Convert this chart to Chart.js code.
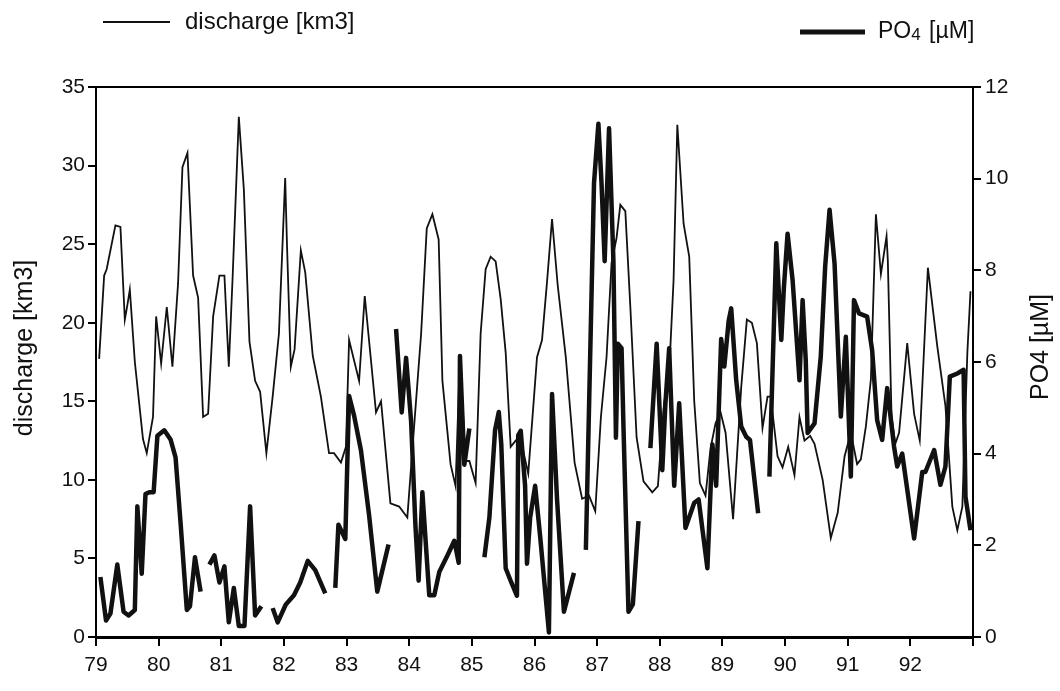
<!DOCTYPE html>
<html>
<head>
<meta charset="utf-8">
<script src="https://cdn.jsdelivr.net/npm/chart.js@4.4.0/dist/chart.umd.min.js"></script>
<style>
  html, body { margin: 0; padding: 0; background: #fff; }
  #wrap { width: 1060px; height: 691px; }
</style>
</head>
<body>
<div id="wrap"><canvas id="chart" width="1060" height="691"></canvas></div>
<script>
// ---------------------------------------------------------------
// DATA (x = year 19xx as decimal)
// ---------------------------------------------------------------
const dischargeYears = [
  79.05, 79.13, 79.17, 79.31, 79.39, 79.46, 79.50, 79.54, 79.62, 79.75, 79.81, 79.91, 79.96,
  80.04, 80.13, 80.22, 80.31, 80.38, 80.46, 80.55, 80.63, 80.71, 80.79, 80.87, 80.97,
  81.05, 81.12, 81.18, 81.28, 81.36, 81.45, 81.54, 81.62, 81.72, 81.82, 81.92,
  82.02, 82.05, 82.11, 82.17, 82.27, 82.34, 82.46, 82.59, 82.72, 82.80, 82.91, 82.99,
  83.04, 83.20, 83.29, 83.47, 83.55, 83.70, 83.84, 83.97,
  84.08, 84.19, 84.28, 84.37, 84.47, 84.53, 84.66, 84.74, 84.81, 84.90, 84.96,
  85.06, 85.14, 85.22, 85.30, 85.38, 85.46, 85.54, 85.62, 85.70, 85.80, 85.90,
  86.04, 86.12, 86.20, 86.28, 86.37, 86.50, 86.64, 86.76, 86.87, 86.97,
  87.06, 87.15, 87.23, 87.31, 87.37, 87.45, 87.53, 87.63, 87.74, 87.88, 87.97,
  88.06, 88.16, 88.22, 88.28, 88.38, 88.47, 88.55, 88.64, 88.73, 88.81, 88.89, 88.97,
  89.05, 89.17, 89.30, 89.39, 89.47, 89.55, 89.64, 89.72, 89.77, 89.88, 89.96,
  90.05, 90.15, 90.23, 90.31, 90.40, 90.47, 90.60, 90.73, 90.84, 90.95,
  91.05, 91.15, 91.21, 91.29, 91.37, 91.45, 91.53, 91.62, 91.64, 91.70, 91.76, 91.82, 91.95,
  92.06, 92.15, 92.28, 92.43, 92.56, 92.67, 92.75, 92.83, 92.91, 92.96
];
const dischargeValues = [
  17.7, 23.0, 23.4, 26.2, 26.1, 20.2, 21.1, 22.1, 17.5, 12.6, 11.7, 14.0, 20.4,
  17.4, 21.0, 17.2, 22.5, 29.9, 30.8, 23.0, 21.6, 14.0, 14.2, 20.4, 23.0,
  23.0, 17.2, 22.8, 33.1, 28.5, 18.8, 16.3, 15.6, 11.7, 15.3, 19.3,
  29.2, 24.8, 17.2, 18.3, 24.6, 23.2, 17.9, 15.3, 11.7, 11.7, 11.1, 12.1,
  18.9, 16.3, 21.7, 14.3, 15.0, 8.5, 8.3, 7.6,
  13.5, 19.3, 26.0, 26.9, 25.3, 16.3, 11.0, 9.6, 17.9, 11.2, 11.2,
  9.8, 19.3, 23.4, 24.2, 23.9, 21.5, 18.1, 12.1, 12.5, 12.2, 10.4,
  17.8, 18.9, 22.6, 26.6, 22.4, 17.8, 11.1, 8.8, 9.0, 8.0,
  14.0, 17.8, 23.8, 25.4, 27.5, 27.1, 21.0, 12.7, 9.9, 9.2, 9.6,
  14.5, 17.7, 22.7, 32.6, 26.3, 24.2, 15.0, 9.8, 9.0, 12.0, 13.6, 14.3,
  13.0, 7.5, 15.9, 20.2, 20.0, 18.7, 13.3, 15.3, 15.3, 11.5, 10.8,
  12.1, 10.3, 14.0, 12.5, 12.8, 12.3, 10.0, 6.3, 7.9, 11.5,
  13.0, 11.0, 11.3, 13.4, 16.4, 26.9, 23.1, 25.5, 24.0, 14.0, 12.3, 13.0, 18.7,
  14.2, 12.5, 23.5, 18.5, 14.7, 8.3, 6.8, 8.3, 18.1, 22.0
];

// null values mark the breaks in the PO4 record
const po4Years = [
  79.07, 79.16, 79.23, 79.34, 79.44, 79.52, 79.62, 79.66, 79.73, 79.79, 79.85, 79.92, 79.98,
  80.09, 80.19, 80.27, 80.35, 80.45, 80.50, 80.58, 80.67,
  80.74,
  80.81, 80.89, 80.97, 81.05, 81.12, 81.20, 81.28, 81.37, 81.46, 81.54, 81.64,
  81.73,
  81.82, 81.90, 82.03, 82.16, 82.26, 82.38, 82.50, 82.66,
  82.74,
  82.82, 82.87, 82.98, 83.04, 83.12, 83.23, 83.36, 83.49, 83.67,
  83.73,
  83.79, 83.88, 83.95, 84.03, 84.10, 84.15, 84.21, 84.32, 84.40, 84.48, 84.61, 84.72, 84.79, 84.81, 84.88, 84.96,
  85.08,
  85.20, 85.28, 85.37, 85.43, 85.47, 85.54, 85.63, 85.72, 85.74, 85.78, 85.85, 85.88, 85.93,
  86.01, 86.09, 86.23, 86.28, 86.36, 86.47, 86.63,
  86.72,
  86.82, 86.95, 87.02, 87.07, 87.12, 87.19, 87.26, 87.30, 87.33, 87.39, 87.42, 87.50, 87.57, 87.66,
  87.75,
  87.85, 87.95, 88.04, 88.09, 88.15, 88.23, 88.31, 88.41, 88.55, 88.62, 88.76, 88.84, 88.90, 88.98,
  89.03, 89.10, 89.14, 89.22, 89.30, 89.38, 89.44, 89.57,
  89.66,
  89.75, 89.86, 89.94, 89.98, 90.04, 90.12, 90.23, 90.28, 90.33, 90.36, 90.47, 90.57, 90.64, 90.71, 90.79,
  90.89, 90.97, 91.05, 91.10, 91.18, 91.31, 91.39, 91.47, 91.55, 91.63, 91.74, 91.79, 91.87,
  92.06, 92.19, 92.24, 92.38, 92.48, 92.56, 92.63, 92.75, 92.85, 92.88, 92.96
];
const po4Values = [
  1.31, 0.36, 0.51, 1.58, 0.55, 0.47, 0.59, 2.85, 1.38, 3.12, 3.16, 3.16, 4.39,
  4.51, 4.31, 3.92, 2.49, 0.59, 0.67, 1.74, 0.99,
  null,
  1.58, 1.78, 1.19, 1.54, 0.32, 1.07, 0.24, 0.24, 2.85, 0.47, 0.67,
  null,
  0.63, 0.32, 0.71, 0.91, 1.19, 1.66, 1.46, 0.95,
  null,
  1.07, 2.45, 2.14, 5.26, 4.83, 4.07, 2.65, 0.99, 2.02,
  null,
  6.72, 4.90, 6.09, 4.71, 2.41, 1.23, 3.16, 0.91, 0.91, 1.42, 1.78, 2.10, 1.62, 6.13, 3.76, 4.55,
  null,
  1.74, 2.61, 4.51, 4.91, 4.20, 1.50, 1.19, 0.90, 4.40, 4.50, 3.30, 1.60, 2.60,
  3.30, 2.20, 0.10, 5.30, 3.00, 0.55, 1.40,
  null,
  1.90, 9.90, 11.2, 9.90, 8.20, 11.1, 8.20, 4.35, 6.40, 6.30, 4.60, 0.55, 0.71, 2.53,
  null,
  4.12, 6.40, 3.64, 5.10, 6.30, 3.30, 5.10, 2.38, 2.93, 3.00, 1.50, 4.20, 3.30, 6.50,
  5.90, 6.90, 7.17, 5.60, 4.59, 4.37, 4.30, 2.70,
  null,
  3.50, 8.59, 6.48, 7.60, 8.80, 7.79, 5.60, 7.35, 6.04, 4.45, 4.66, 6.12, 8.08, 9.32, 8.15,
  4.81, 6.55, 3.50, 7.35, 7.06, 6.99, 6.26, 4.73, 4.30, 5.43, 4.15, 3.72, 4.00,
  2.15, 3.60, 3.60, 4.08, 3.32, 3.72, 5.68, 5.75, 5.83, 3.06, 2.33
];

const yearTicks = [79, 80, 81, 82, 83, 84, 85, 86, 87, 88, 89, 90, 91, 92];
const dischargeTicks = [0, 5, 10, 15, 20, 25, 30, 35];
const po4Ticks = [0, 2, 4, 6, 8, 10, 12];

// ---------------------------------------------------------------
// STYLE
// ---------------------------------------------------------------
const FONT = "'Liberation Sans', Arial, Helvetica, sans-serif";
const INK = "#111";

// frame, axis titles and the two legend entries
const decorPlugin = {
  id: "decor",
  afterDraw(chart) {
    const { ctx, chartArea: a } = chart;
    ctx.save();
    ctx.strokeStyle = "#000";
    ctx.lineWidth = 2;
    ctx.beginPath();
    ctx.moveTo(a.left - 1, a.top);
    ctx.lineTo(a.right + 1, a.top);
    ctx.stroke();

    ctx.fillStyle = INK;
    ctx.textBaseline = "middle";
    ctx.textAlign = "center";

    // left title
    ctx.save();
    ctx.translate(25, 348);
    ctx.rotate(-Math.PI / 2);
    ctx.font = `25px ${FONT}`;
    ctx.fillText("discharge [km3]", 0, 0);
    ctx.restore();

    // right title
    ctx.save();
    ctx.translate(1041, 347);
    ctx.rotate(-Math.PI / 2);
    ctx.font = `25px ${FONT}`;
    ctx.fillText("PO4 [µM]", 0, 0);
    ctx.restore();

    // legend: discharge
    ctx.strokeStyle = INK;
    ctx.lineWidth = 2;
    ctx.beginPath();
    ctx.moveTo(103, 22);
    ctx.lineTo(170, 22);
    ctx.stroke();
    ctx.textAlign = "left";
    ctx.font = `24px ${FONT}`;
    ctx.fillText("discharge [km3]", 185, 22);

    // legend: PO4
    ctx.lineWidth = 5;
    ctx.beginPath();
    ctx.moveTo(800, 32);
    ctx.lineTo(865, 32);
    ctx.stroke();
    ctx.font = `23px ${FONT}`;
    let x = 878;
    ctx.fillText("PO", x, 32);
    x += ctx.measureText("PO").width;
    ctx.font = `17px ${FONT}`;
    ctx.fillText("4", x, 35);
    x += ctx.measureText("4").width + 2;
    ctx.font = `23px ${FONT}`;
    ctx.fillText(" [µM]", x, 32);
    ctx.restore();
  }
};

const axisGrid = {
  display: true,
  drawOnChartArea: false,
  drawTicks: true,
  tickLength: 8,
  color: "#000",
  lineWidth: 2
};

new Chart(document.getElementById("chart"), {
  type: "line",
  data: {
    datasets: [
      {
        label: "discharge [km3]",
        data: dischargeYears.map((x, i) => ({ x, y: dischargeValues[i] })),
        yAxisID: "y",
        borderColor: INK,
        borderWidth: 1.8,
        pointRadius: 0,
        tension: 0
      },
      {
        label: "PO4 [µM]",
        data: po4Years.map((x, i) => ({ x, y: po4Values[i] })),
        yAxisID: "y2",
        borderColor: INK,
        borderWidth: 4.5,
        borderJoinStyle: "round",
        pointRadius: 0,
        tension: 0,
        spanGaps: false
      }
    ]
  },
  options: {
    responsive: false,
    animation: false,
    layout: { padding: { top: 87, left: 0, right: 0, bottom: 0 } },
    plugins: { legend: { display: false }, tooltip: { enabled: false } },
    scales: {
      x: {
        type: "linear",
        position: "bottom",
        min: 79,
        max: 93,
        afterBuildTicks: s => { s.ticks = yearTicks.concat([93]).map(v => ({ value: v })); },
        ticks: {
          callback: v => (yearTicks.includes(v) ? String(v) : ""),
          font: { family: FONT, size: 21 },
          color: INK,
          padding: 7,
          maxRotation: 0,
          autoSkip: false
        },
        grid: { ...axisGrid, tickLength: 9 },
        border: { display: true, color: "#000", width: 3 },
        afterFit: s => { s.height = 54; }
      },
      y: {
        position: "left",
        min: 0,
        max: 35,
        afterBuildTicks: s => { s.ticks = dischargeTicks.map(v => ({ value: v })); },
        ticks: { font: { family: FONT, size: 21 }, color: INK, padding: 3 },
        grid: axisGrid,
        border: { display: true, color: "#000", width: 2 },
        afterFit: s => { s.width = 96; }
      },
      y2: {
        position: "right",
        min: 0,
        max: 12,
        afterBuildTicks: s => { s.ticks = po4Ticks.map(v => ({ value: v })); },
        ticks: { font: { family: FONT, size: 21 }, color: INK, padding: 4 },
        grid: axisGrid,
        border: { display: true, color: "#000", width: 2 },
        afterFit: s => { s.width = 87; }
      }
    }
  },
  plugins: [decorPlugin]
});
</script>
</body>
</html>
